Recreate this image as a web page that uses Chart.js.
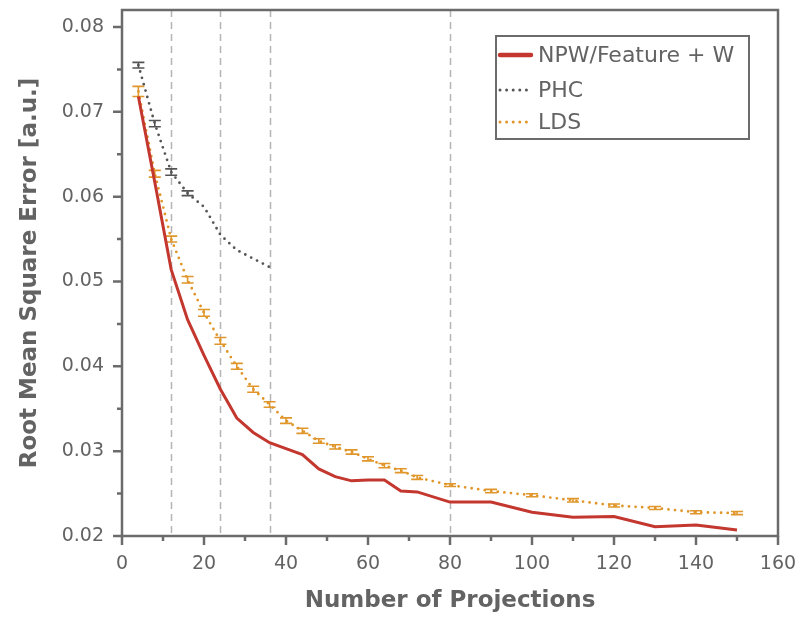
<!DOCTYPE html>
<html><head><meta charset="utf-8">
<script src="https://cdn.jsdelivr.net/npm/chart.js@4/dist/chart.umd.min.js"></script>
<style>html,body{margin:0;padding:0;background:#fff}#wrap{width:795px;height:617px;position:relative}</style>
</head><body><div id="wrap"><canvas id="c" width="795" height="617"></canvas></div>
<script>
// ---- data ----
const seriesNames = ['NPW/Feature + W', 'PHC', 'LDS'];

const npwX = [4,8,12,16,20,24,28,32,36,40,44,48,52,56,60,64,68,72,80,90,100,110,120,130,140,150];
const npwY = [0.0718,0.0617,0.0514,0.0455,0.0413,0.0373,0.0339,0.0322,0.0310,0.0303,0.0296,0.0279,0.0270,0.0265,0.0266,0.0266,0.0253,0.0252,0.0240,0.0240,0.0228,0.0222,0.0223,0.0211,0.0213,0.0207];

const phcX = [4,8,12,16,20,24,28,32,36];
const phcY = [0.0755,0.0686,0.0629,0.0604,0.0588,0.0555,0.0537,0.0527,0.0517];
const phcErr = [0.00033,0.00037,0.00037,0.00028,0,0,0,0,0];

const ldsX = [4,8,12,16,20,24,28,32,36,40,44,48,52,56,60,64,68,72,80,90,100,110,120,130,140,150];
const ldsY = [0.0724,0.0627,0.0550,0.0502,0.0463,0.0430,0.0400,0.0373,0.0355,0.0336,0.0324,0.0312,0.0305,0.0299,0.0291,0.0283,0.0277,0.0269,0.0260,0.0253,0.0248,0.0242,0.0236,0.0233,0.0228,0.0227];
const ldsErr = [0.0006,0.0004,0.00035,0.00038,0.0004,0.0004,0.00035,0.00035,0.00033,0.00032,0.0003,0.00026,0.00025,0.00025,0.00025,0.00025,0.00023,0.00023,0.00016,0.0002,0.00018,0.0002,0.00018,0.00018,0.00018,0.00018];

const xTicks = [0,20,40,60,80,100,120,140,160];
const xMinorTicks = [10,30,50,70,90,110,130,150];
const yTicks = [0.02,0.03,0.04,0.05,0.06,0.07,0.08];
const yMinorTicks = [0.025,0.035,0.045,0.055,0.065,0.075];
const refLines = [12,24,36,80];

const xTitle = 'Number of Projections';
const yTitle = 'Root Mean Square Error [a.u.]';

// ---- styles ----
const TXT = '#636363';
const AXIS = '#6b6b6b';
const RED = '#c3372f';
const GRAY = '#555555';
const ORANGE = '#e0962a';
const FONT = "'DejaVu Sans', sans-serif";

const pts = (xs, ys) => xs.map((x, i) => ({x, y: ys[i]}));
const noPad = s => { s.paddingTop = 0; s.paddingBottom = 0; s.paddingLeft = 0; s.paddingRight = 0; };

const decor = {
  id: 'decor',
  beforeDatasetsDraw(chart) {
    const {ctx, chartArea: a, scales: {x}} = chart;
    ctx.save();
    ctx.strokeStyle = '#b5b5b5';
    ctx.lineWidth = 1.5;
    ctx.setLineDash([7, 5]);
    refLines.forEach(v => {
      const px = Math.round(x.getPixelForValue(v)) + 0.5;
      ctx.beginPath(); ctx.moveTo(px, a.top); ctx.lineTo(px, a.bottom); ctx.stroke();
    });
    ctx.restore();
  },
  afterDatasetDraw(chart, args) {
    const ds = chart.data.datasets[args.index];
    if (!ds.errors) return;
    const {ctx, scales: {x, y}} = chart;
    ctx.save();
    ctx.strokeStyle = ds.errColor;
    ctx.lineWidth = 1.6;
    ctx.setLineDash([]);
    ds.data.forEach((p, i) => {
      const e = ds.errors[i];
      if (!e) return;
      const px = x.getPixelForValue(p.x);
      const y1 = y.getPixelForValue(p.y + e), y2 = y.getPixelForValue(p.y - e);
      const hw = 6;
      ctx.beginPath();
      ctx.moveTo(px, y1); ctx.lineTo(px, y2);
      ctx.moveTo(px - hw, y1); ctx.lineTo(px + hw, y1);
      ctx.moveTo(px - hw, y2); ctx.lineTo(px + hw, y2);
      ctx.stroke();
    });
    ctx.restore();
  },
  afterDraw(chart) {
    const {ctx, chartArea: a, scales: {x, y}} = chart;
    ctx.save();
    ctx.strokeStyle = AXIS;
    ctx.lineWidth = 2.5;
    ctx.setLineDash([]);
    ctx.strokeRect(a.left, a.top, a.right - a.left, a.bottom - a.top);
    ctx.beginPath();
    xTicks.forEach(v => { const px = x.getPixelForValue(v); ctx.moveTo(px, a.bottom); ctx.lineTo(px, a.bottom + 9); });
    xMinorTicks.forEach(v => { const px = x.getPixelForValue(v); ctx.moveTo(px, a.bottom); ctx.lineTo(px, a.bottom + 5); });
    yTicks.forEach(v => { const py = y.getPixelForValue(v); ctx.moveTo(a.left, py); ctx.lineTo(a.left - 9, py); });
    yMinorTicks.forEach(v => { const py = y.getPixelForValue(v); ctx.moveTo(a.left, py); ctx.lineTo(a.left - 5, py); });
    ctx.stroke();

    // legend
    const bx = 496, by = 36, bw = 253, bh = 103;
    ctx.lineWidth = 2;
    ctx.strokeStyle = AXIS;
    ctx.strokeRect(bx, by, bw, bh);
    const rows = [55, 90, 122];
    ctx.font = '22px ' + FONT;
    ctx.textBaseline = 'middle';
    ctx.textAlign = 'left';
    chart.data.datasets.forEach((ds, i) => {
      const ry = rows[i];
      ctx.save();
      ctx.strokeStyle = ds.borderColor;
      ctx.lineWidth = ds.legendWidth;
      ctx.lineCap = 'round';
      ctx.setLineDash(ds.borderDash || []);
      ctx.beginPath();
      ctx.moveTo(500, ry); ctx.lineTo(531, ry);
      ctx.stroke();
      ctx.restore();
      ctx.fillStyle = TXT;
      ctx.fillText(seriesNames[i], 538, ry + 1);
    });
    ctx.restore();
  }
};

new Chart(document.getElementById('c'), {
  type: 'line',
  data: {
    datasets: [
      {label: seriesNames[0], data: pts(npwX, npwY), borderColor: RED, borderWidth: 3, legendWidth: 4.5, pointRadius: 0, tension: 0},
      {label: seriesNames[1], data: pts(phcX, phcY), errors: phcErr, errColor: GRAY, borderColor: GRAY, borderWidth: 2.8, legendWidth: 3, borderDash: [0, 6.6], borderCapStyle: 'round', pointRadius: 0, tension: 0},
      {label: seriesNames[2], data: pts(ldsX, ldsY), errors: ldsErr, errColor: ORANGE, borderColor: ORANGE, borderWidth: 2.8, legendWidth: 3, borderDash: [0, 6.6], borderCapStyle: 'round', pointRadius: 0, tension: 0}
    ]
  },
  options: {
    responsive: false,
    animation: false,
    devicePixelRatio: 1,
    layout: {padding: {top: 10, right: 17, left: 0, bottom: 0}},
    plugins: {legend: {display: false}, tooltip: {enabled: false}},
    scales: {
      x: {
        type: 'linear', min: 0, max: 160,
        afterBuildTicks: s => { s.ticks = xTicks.map(v => ({value: v})); },
        afterFit: s => { s.height = 81; noPad(s); },
        grid: {display: false, drawTicks: false},
        border: {display: false},
        ticks: {color: TXT, font: {family: FONT, size: 19}, padding: 17, maxRotation: 0, autoSkip: false},
        title: {display: true, text: xTitle, color: TXT, font: {family: FONT, size: 23, weight: 'bold'}, padding: {top: 0, bottom: 2}}
      },
      y: {
        type: 'linear', min: 0.02, max: 0.082,
        afterBuildTicks: s => { s.ticks = yTicks.map(v => ({value: v})); },
        afterFit: s => { s.width = 122; noPad(s); },
        grid: {display: false, drawTicks: false},
        border: {display: false},
        ticks: {color: TXT, font: {family: FONT, size: 19}, padding: 18, autoSkip: false, callback: v => v.toFixed(2)},
        title: {display: true, text: yTitle, color: TXT, font: {family: FONT, size: 23, weight: 'bold'}, padding: {top: 16, bottom: 0}}
      }
    }
  },
  plugins: [decor]
});
</script></body></html>
